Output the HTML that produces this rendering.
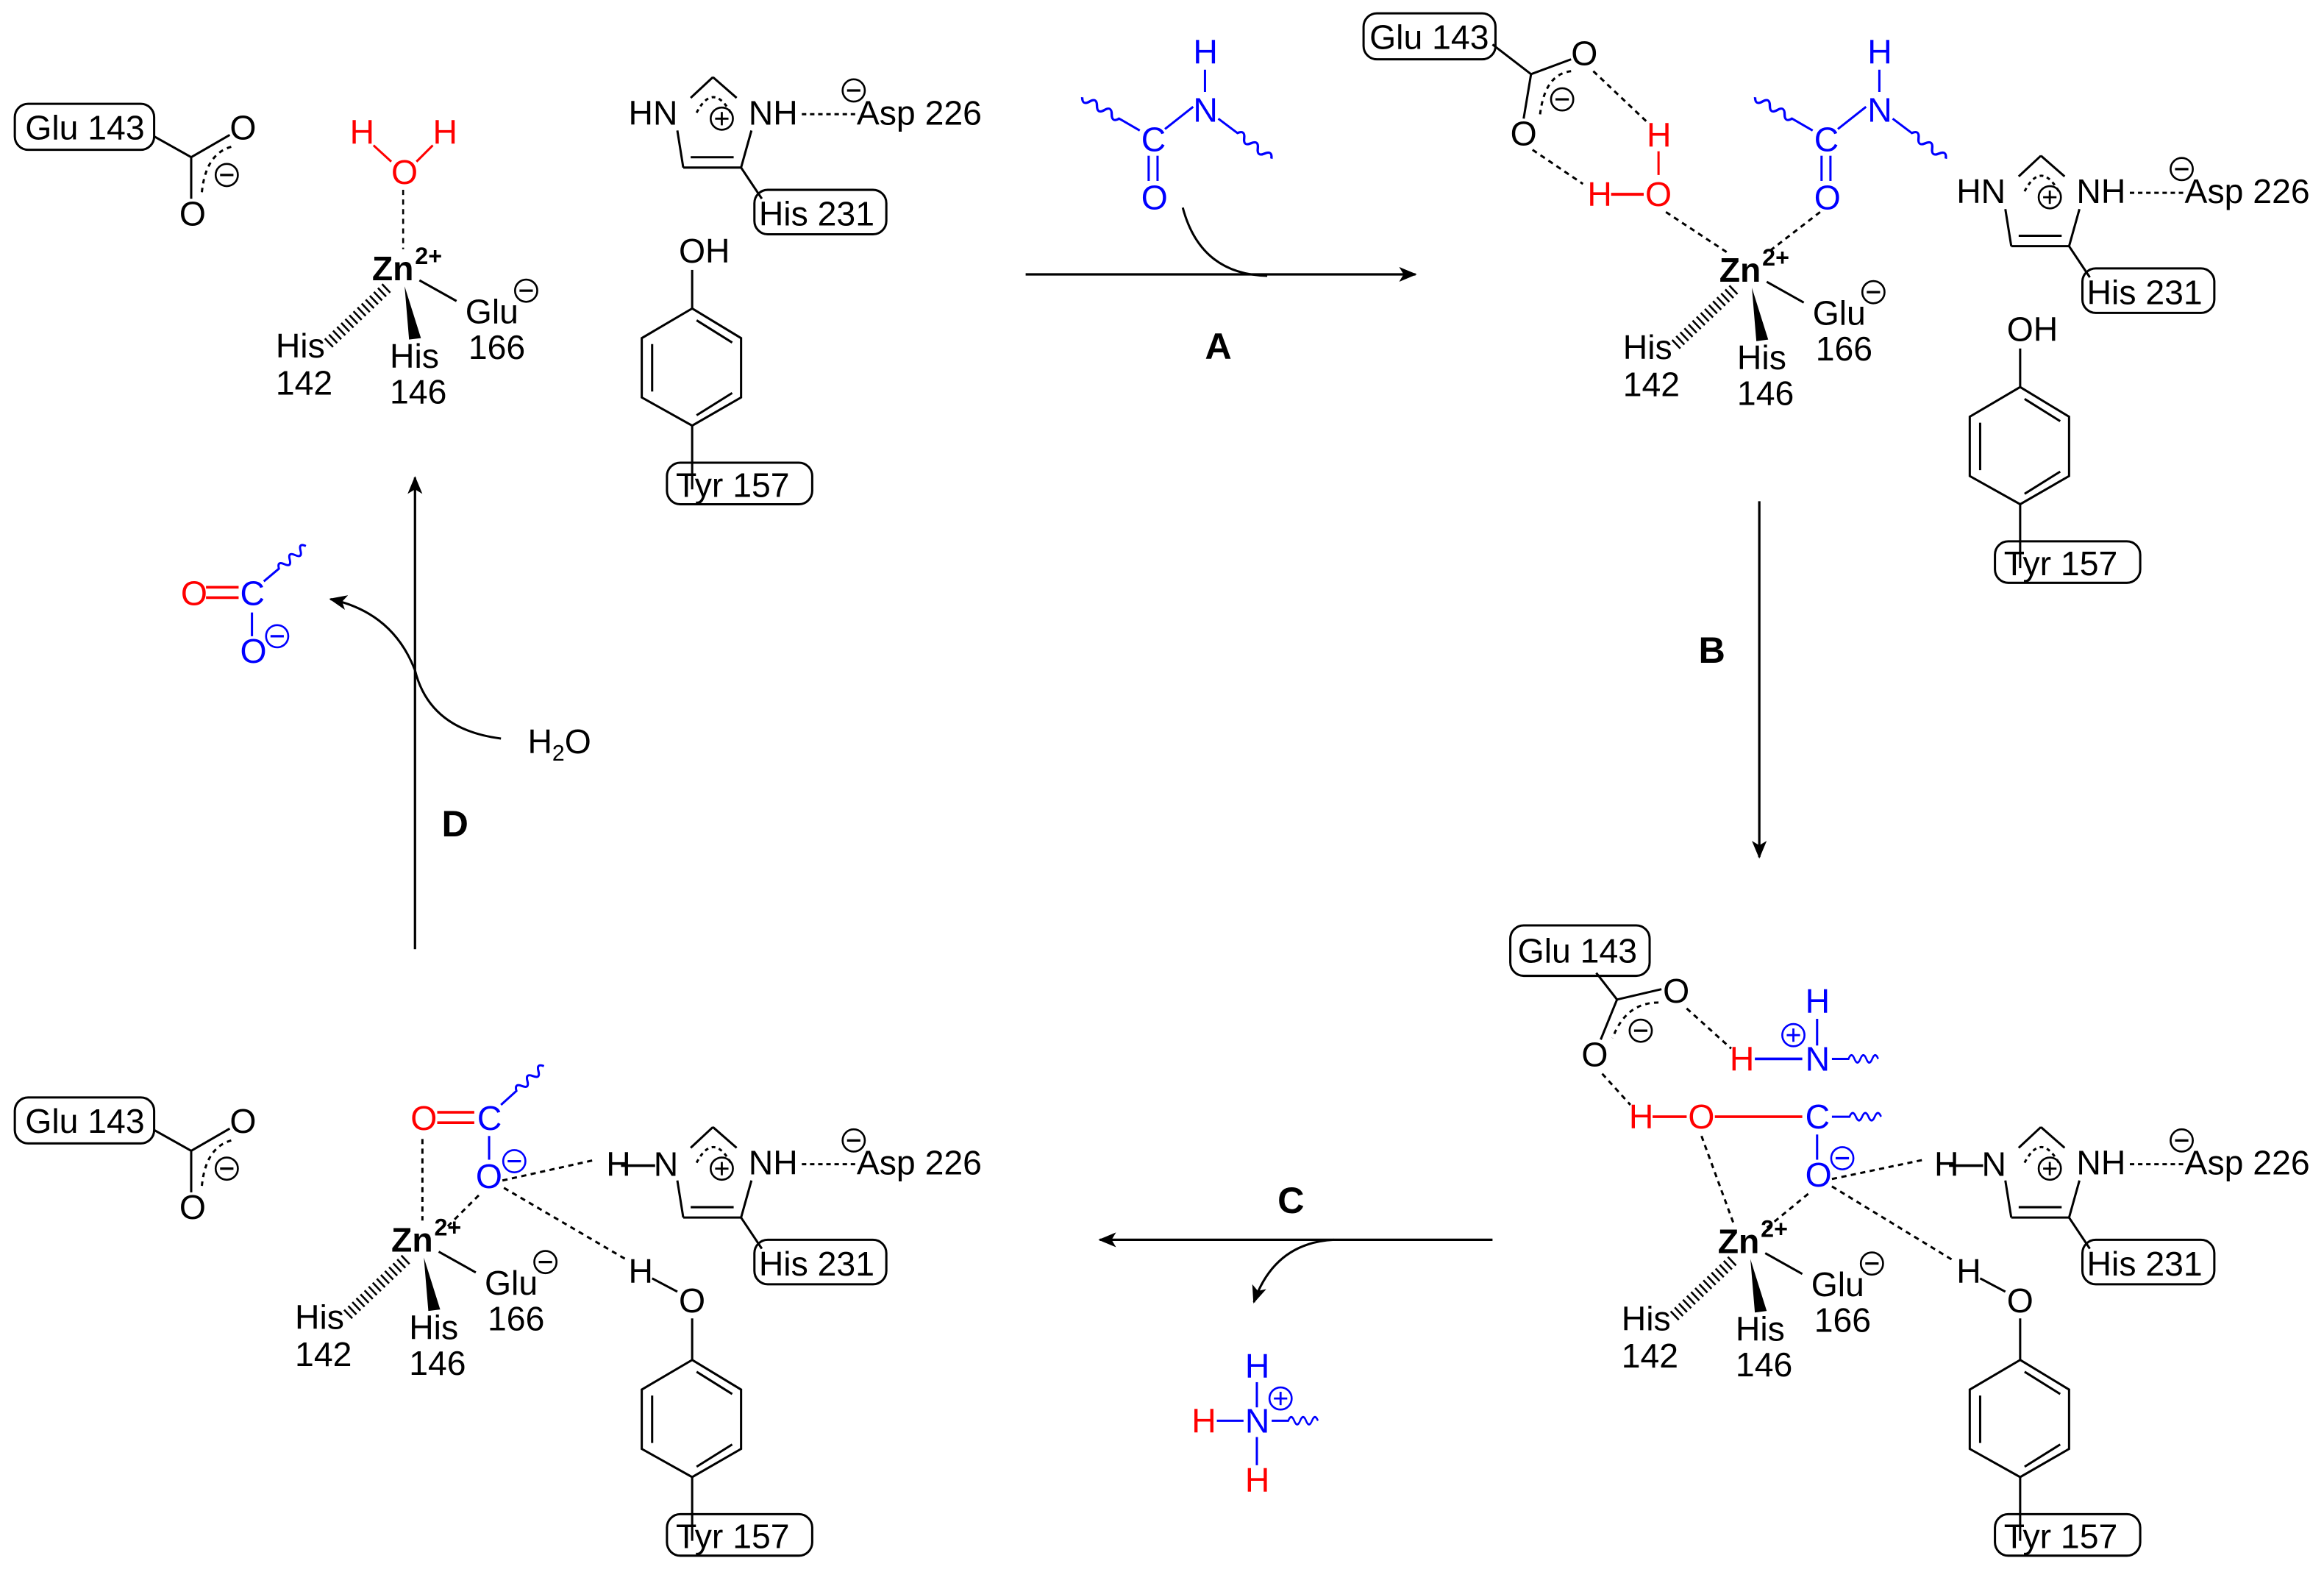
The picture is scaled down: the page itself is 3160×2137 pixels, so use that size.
<!DOCTYPE html>
<html><head><meta charset="utf-8"><style>
html,body{margin:0;padding:0;background:#fff;}
svg{display:block;}
text{font-family:"Liberation Sans",sans-serif;font-size:23px;}
.b{fill:#0000ff}.r{fill:#ff0000}.k{fill:#000}
.lb{stroke:#0000ff}.lr{stroke:#ff0000}
.big{font-weight:bold;font-size:25px;}
</style></head><body>
<svg width="3160" height="2137" viewBox="0 0 1568 1060" preserveAspectRatio="none" xmlns="http://www.w3.org/2000/svg">
<defs>
<marker id="ah" viewBox="0 0 12 10" refX="11" refY="5" markerWidth="12" markerHeight="10" markerUnits="userSpaceOnUse" orient="auto">
<path d="M0,0 L12,5 L0,10 L3,5 Z" fill="#000"/></marker>
<g id="mn"><circle r="7.5" fill="none" stroke="#000" stroke-width="1.3"/><line x1="-4.5" x2="4.5" y1="0" y2="0" stroke="#000" stroke-width="1.6"/></g>
<g id="mnb"><circle r="7.5" fill="none" stroke="#00f" stroke-width="1.3"/><line x1="-4.5" x2="4.5" y1="0" y2="0" stroke="#00f" stroke-width="1.6"/></g>
<g id="pl"><circle r="7.5" fill="none" stroke="#000" stroke-width="1.3"/><line x1="-4.5" x2="4.5" y1="0" y2="0" stroke="#000" stroke-width="1.4"/><line y1="-4.5" y2="4.5" x1="0" x2="0" stroke="#000" stroke-width="1.4"/></g>
<g id="plb"><circle r="7.5" fill="none" stroke="#00f" stroke-width="1.3"/><line x1="-4.5" x2="4.5" y1="0" y2="0" stroke="#00f" stroke-width="1.4"/><line y1="-4.5" y2="4.5" x1="0" x2="0" stroke="#00f" stroke-width="1.4"/></g>
<path id="wv" d="M0,0 L14,0 q2.5,-5 5,0 t5,0 t5,0 t5,0 t5,0" fill="none" stroke="#00f" stroke-width="1.5"/>
<g id="zn">
<text x="251" y="189" style="font-weight:bold">Zn</text>
<text x="280" y="178" style="font-weight:bold;font-size:16px">2+</text>
<line x1="261" y1="194" x2="221" y2="232" stroke="#000" stroke-width="8" stroke-dasharray="1.3 2.5"/>
<polygon points="273,193 276,229 284,228" fill="#000"/>
<line x1="283" y1="189" x2="308" y2="203" stroke="#000" stroke-width="1.5"/>
<text x="314" y="218">Glu</text><use href="#mn" x="355" y="196"/>
<text x="316" y="242">166</text>
<text x="186" y="241">His</text><text x="186" y="266">142</text>
<text x="263" y="248">His</text><text x="263" y="272">146</text>
</g>
<g id="im" stroke="#000" stroke-width="1.5" fill="none">
<line x1="457" y1="88" x2="461" y2="113"/>
<line x1="461" y1="113" x2="500" y2="113"/>
<line x1="466" y1="106" x2="495" y2="106"/>
<line x1="500" y1="113" x2="507" y2="88"/>
<line x1="466" y1="66" x2="481" y2="52"/>
<line x1="481" y1="52" x2="497" y2="66"/>
<path d="M470,76 Q481,55 493,76" stroke-dasharray="2.5 2.5"/>
<use href="#pl" x="487" y="80"/>
<text x="505" y="84" fill="#000" stroke="none">NH</text>
<line x1="541" y1="77" x2="577" y2="77" stroke-dasharray="3 2.5"/>
<text x="578" y="84" fill="#000" stroke="none">Asp 226</text>
<use href="#mn" x="576" y="61"/>
<line x1="500" y1="113" x2="514" y2="134"/>
<rect x="509" y="128" width="89" height="30" rx="9"/>
<text x="512" y="152" fill="#000" stroke="none">His 231</text>
</g>
<g id="ty" stroke="#000" stroke-width="1.5" fill="none">
<polygon points="467,208 500,228 500,268 467,287 433,268 433,228"/>
<line x1="470" y1="216" x2="494" y2="231"/>
<line x1="440" y1="232" x2="440" y2="264"/>
<line x1="470" y1="280" x2="494" y2="265"/>
<line x1="467" y1="287" x2="467" y2="330"/>
<rect x="450" y="312" width="98" height="28" rx="9"/>
<text x="456" y="335" fill="#000" stroke="none">Tyr 157</text>
</g>
<g id="gl" stroke="#000" stroke-width="1.5" fill="none">
<rect x="10" y="70" width="94" height="31" rx="9"/>
<text x="17" y="94" fill="#000" stroke="none">Glu 143</text>
<line x1="104" y1="92" x2="129" y2="106"/>
<line x1="129" y1="106" x2="155" y2="91"/>
<line x1="129" y1="106" x2="129" y2="134"/>
<path d="M156,99 Q138,104 136,132" stroke-dasharray="3 3"/>
<text x="155" y="94" fill="#000" stroke="none">O</text>
<text x="121" y="152" fill="#000" stroke="none">O</text>
<use href="#mn" x="153" y="118"/>
</g>
</defs>

<use href="#gl"/>
<use href="#zn"/>
<text x="236" y="97" class="r">H</text><text x="292" y="97" class="r">H</text>
<text x="264" y="124" class="r">O</text>
<line x1="252" y1="98" x2="264" y2="109" class="lr" stroke-width="1.5"/>
<line x1="292" y1="98" x2="281" y2="109" class="lr" stroke-width="1.5"/>
<line x1="272" y1="128" x2="272" y2="168" stroke="#000" stroke-width="1.3" stroke-dasharray="3.5 3"/>
<text x="424" y="84">HN</text>
<use href="#im"/>
<text x="458" y="177">OH</text>
<line x1="467" y1="182" x2="467" y2="208" stroke="#000" stroke-width="1.5"/>
<use href="#ty"/>

<line x1="692" y1="185" x2="955" y2="185" stroke="#000" stroke-width="1.6" marker-end="url(#ah)"/>
<path d="M798,140 Q810,185 855,186" fill="none" stroke="#000" stroke-width="1.5"/>
<text x="813" y="242" class="big">A</text>
<g>
<text x="805" y="43" class="b">H</text>
<line x1="813" y1="47" x2="813" y2="62" class="lb" stroke-width="1.5"/>
<text x="805" y="82" class="b">N</text>
<text x="770" y="102" class="b">C</text>
<text x="770" y="141" class="b">O</text>
<line x1="786" y1="87" x2="805" y2="72" class="lb" stroke-width="1.5"/>
<line x1="775" y1="105" x2="775" y2="122" class="lb" stroke-width="1.5"/>
<line x1="781" y1="105" x2="781" y2="122" class="lb" stroke-width="1.5"/>
<use href="#wv" transform="translate(769,88) rotate(-150) scale(1.15,1)"/>
<use href="#wv" transform="translate(822,80) rotate(37) scale(1.15,1)"/>
</g>

<use href="#zn" transform="translate(909,1)"/>
<g stroke="#000" stroke-width="1.5" fill="none">
<rect x="920" y="9" width="89" height="31" rx="9"/>
<line x1="1007" y1="30" x2="1033" y2="50"/>
<line x1="1033" y1="50" x2="1060" y2="40"/>
<line x1="1033" y1="50" x2="1028" y2="80"/>
<path d="M1060,48 Q1042,50 1039,78" stroke-dasharray="3 3"/>
<line x1="1075" y1="48" x2="1111" y2="82" stroke-dasharray="3.5 3"/>
<line x1="1034" y1="101" x2="1068" y2="124" stroke-dasharray="3.5 3"/>
<line x1="1124" y1="143" x2="1165" y2="170" stroke-dasharray="3.5 3"/>
<line x1="1228" y1="143" x2="1193" y2="170" stroke-dasharray="3.5 3"/>
</g>
<text x="924" y="33">Glu 143</text>
<text x="1060" y="44">O</text>
<text x="1019" y="98">O</text>
<use href="#mn" x="1054" y="67"/>
<text x="1111" y="99" class="r">H</text>
<line x1="1119" y1="102" x2="1119" y2="118" class="lr" stroke-width="1.5"/>
<text x="1110" y="139" class="r">O</text>
<text x="1071" y="139" class="r">H</text>
<line x1="1087" y1="131" x2="1109" y2="131" class="lr" stroke-width="2"/>
<text x="1260" y="43" class="b">H</text>
<line x1="1268" y1="47" x2="1268" y2="62" class="lb" stroke-width="1.5"/>
<text x="1260" y="82" class="b">N</text>
<text x="1224" y="102" class="b">C</text>
<text x="1224" y="141" class="b">O</text>
<line x1="1240" y1="87" x2="1259" y2="72" class="lb" stroke-width="1.5"/>
<line x1="1229" y1="105" x2="1229" y2="122" class="lb" stroke-width="1.5"/>
<line x1="1235" y1="105" x2="1235" y2="122" class="lb" stroke-width="1.5"/>
<use href="#wv" transform="translate(1223,88) rotate(-150) scale(1.15,1)"/>
<use href="#wv" transform="translate(1277,80) rotate(37) scale(1.15,1)"/>
<g transform="translate(896,53)">
<text x="424" y="84">HN</text>
<use href="#im"/>
<text x="458" y="177">OH</text>
<line x1="467" y1="182" x2="467" y2="208" stroke="#000" stroke-width="1.5"/>
<use href="#ty"/>
</g>

<line x1="1187" y1="338" x2="1187" y2="578" stroke="#000" stroke-width="1.6" marker-end="url(#ah)"/>
<text x="1146" y="447" class="big">B</text>

<use href="#zn" transform="translate(908,656)"/>
<g stroke="#000" stroke-width="1.5" fill="none">
<rect x="1019" y="624" width="94" height="34" rx="9"/>
<line x1="1077" y1="656" x2="1091" y2="674"/>
<line x1="1091" y1="674" x2="1121" y2="667"/>
<line x1="1091" y1="674" x2="1080" y2="701"/>
<path d="M1119,676 Q1097,676 1088,700" stroke-dasharray="3 3"/>
<line x1="1138" y1="680" x2="1168" y2="707" stroke-dasharray="3.5 3"/>
<line x1="1081" y1="724" x2="1100" y2="745" stroke-dasharray="3.5 3"/>
<line x1="1148" y1="766" x2="1170" y2="826" stroke-dasharray="3.5 3"/>
<line x1="1220" y1="805" x2="1192" y2="828" stroke-dasharray="3.5 3"/>
<line x1="1236" y1="795" x2="1298" y2="782" stroke-dasharray="3.5 3"/>
<line x1="1236" y1="800" x2="1318" y2="850" stroke-dasharray="3.5 3"/>
</g>
<text x="1024" y="649">Glu 143</text>
<text x="1122" y="676">O</text>
<text x="1067" y="719">O</text>
<use href="#mn" x="1107" y="695"/>
<text x="1167" y="722" class="r">H</text>
<line x1="1184" y1="714" x2="1216" y2="714" class="lb" stroke-width="1.8"/>
<text x="1218" y="722" class="b">N</text>
<text x="1218" y="683" class="b">H</text>
<line x1="1226" y1="687" x2="1226" y2="705" class="lb" stroke-width="1.5"/>
<use href="#plb" x="1210" y="698"/>
<use href="#wv" transform="translate(1236,714) scale(0.8,1)"/>
<text x="1099" y="761" class="r">H</text>
<line x1="1115" y1="753" x2="1138" y2="753" class="lr" stroke-width="1.8"/>
<text x="1139" y="761" class="r">O</text>
<line x1="1157" y1="753" x2="1216" y2="753" class="lr" stroke-width="1.8"/>
<text x="1218" y="761" class="b">C</text>
<use href="#wv" transform="translate(1236,753) scale(0.85,1)"/>
<line x1="1226" y1="765" x2="1226" y2="782" class="lb" stroke-width="1.5"/>
<text x="1218" y="800" class="b">O</text>
<use href="#mnb" x="1243" y="781"/>
<g transform="translate(896,708)">
<text x="409" y="85">H</text>
<line x1="419" y1="78" x2="442" y2="78" stroke="#000" stroke-width="1.8"/>
<text x="441" y="85">N</text>
<use href="#im"/>
</g>
<g transform="translate(896,709)">
<text x="424" y="156">H</text>
<line x1="440" y1="153" x2="457" y2="162" stroke="#000" stroke-width="1.5"/>
<text x="458" y="176">O</text>
<line x1="467" y1="180" x2="467" y2="208" stroke="#000" stroke-width="1.5"/>
<use href="#ty"/>
</g>

<line x1="1007" y1="836" x2="742" y2="836" stroke="#000" stroke-width="1.6" marker-end="url(#ah)"/>
<path d="M900,836 Q860,838 846,878" fill="none" stroke="#000" stroke-width="1.5" marker-end="url(#ah)"/>
<text x="862" y="818" class="big">C</text>
<text x="840" y="929" class="b">H</text>
<line x1="848" y1="932" x2="848" y2="949" class="lb" stroke-width="1.5"/>
<use href="#plb" x="864" y="943"/>
<text x="804" y="966" class="r">H</text>
<line x1="821" y1="958" x2="839" y2="958" class="lb" stroke-width="1.5"/>
<text x="840" y="966" class="b">N</text>
<use href="#wv" transform="translate(858,958) scale(0.8,1)"/>
<line x1="848" y1="969" x2="848" y2="988" class="lb" stroke-width="1.5"/>
<text x="840" y="1006" class="r">H</text>

<use href="#gl" transform="translate(0,670)"/>
<use href="#zn" transform="translate(13,655)"/>
<text x="277" y="762" class="r">O</text>
<line x1="295" y1="750" x2="320" y2="750" class="lr" stroke-width="1.8"/>
<line x1="295" y1="757" x2="320" y2="757" class="lr" stroke-width="1.8"/>
<text x="322" y="762" class="b">C</text>
<use href="#wv" transform="translate(338,745) rotate(-42) scale(1,1)"/>
<line x1="330" y1="766" x2="330" y2="782" class="lb" stroke-width="1.5"/>
<text x="321" y="801" class="b">O</text>
<use href="#mnb" x="347" y="783"/>
<g stroke="#000" stroke-width="1.5" fill="none" stroke-dasharray="3.5 3">
<line x1="285" y1="768" x2="285" y2="823"/>
<line x1="323" y1="806" x2="301" y2="828"/>
<line x1="339" y1="796" x2="402" y2="782"/>
<line x1="340" y1="801" x2="422" y2="849"/>
</g>
<g transform="translate(0,708)">
<text x="409" y="85">H</text>
<line x1="419" y1="78" x2="442" y2="78" stroke="#000" stroke-width="1.8"/>
<text x="441" y="85">N</text>
<use href="#im"/>
</g>
<g transform="translate(0,709)">
<text x="424" y="156">H</text>
<line x1="440" y1="153" x2="457" y2="162" stroke="#000" stroke-width="1.5"/>
<text x="458" y="176">O</text>
<line x1="467" y1="180" x2="467" y2="208" stroke="#000" stroke-width="1.5"/>
<use href="#ty"/>
</g>

<line x1="280" y1="640" x2="280" y2="322" stroke="#000" stroke-width="1.6" marker-end="url(#ah)"/>
<path d="M338,498 Q290,492 280,452 Q265,413 223,404" fill="none" stroke="#000" stroke-width="1.5" marker-end="url(#ah)"/>
<text x="298" y="564" class="big">D</text>
<text x="356" y="508">H<tspan dy="5" style="font-size:15px">2</tspan><tspan dy="-5">O</tspan></text>
<text x="122" y="408" class="r">O</text>
<line x1="139" y1="396" x2="161" y2="396" class="lr" stroke-width="1.8"/>
<line x1="139" y1="403" x2="161" y2="403" class="lr" stroke-width="1.8"/>
<text x="162" y="408" class="b">C</text>
<use href="#wv" transform="translate(178,392) rotate(-40) scale(0.95,1)"/>
<line x1="170" y1="413" x2="170" y2="429" class="lb" stroke-width="1.5"/>
<text x="162" y="447" class="b">O</text>
<use href="#mnb" x="187" y="429"/>
</svg>
</body></html>
